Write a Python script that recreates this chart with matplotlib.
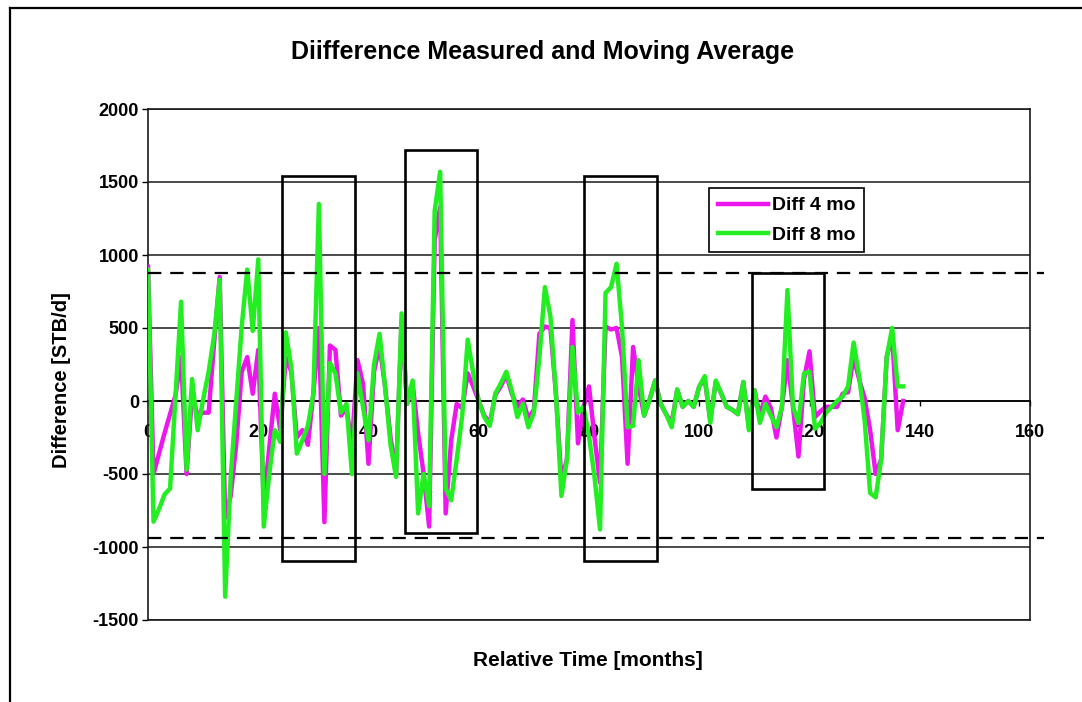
import matplotlib
matplotlib.use("Agg")
import matplotlib.pyplot as plt
from matplotlib.patches import Rectangle
from matplotlib.lines import Line2D

plt.rcParams['font.family'] = ['Liberation Sans', 'DejaVu Sans']
plt.rcParams['font.weight'] = 'bold'

# ---------------- data ----------------
months = list(range(138))

diff_4mo = [
    920, -500, -360, -220, -90, 40, 300, -500, 50, -100,
    -80, -80, 400, 850, -800, -650, -300, 200, 300, 50,
    350, -700, -320, 50, -200, 300, 200, -250, -200, -300,
    50, 500, -830, 380, 350, -100, -50, -300, 280, 120,
    -430, 200, 380, 100, -250, -500, 550, -20, 120, -220,
    -500, -860, 1100, 1330, -770, -270, -20, -50, 190, 100,
    0, -100, -150, 40, 100, 180, 50, -40, 10, -120,
    -60, 460, 510, 500, 50, -540, -400, 555, -290, -40,
    100, -250, -560, 510, 490, 500, 300, -430, 370, 100,
    -100, 10, 140, -20, -90, -150, 75, -40, 0, -40,
    100, 150, -130, 130, 50, -40, -60, -90, 130, -180,
    75, -100, 30, -50, -250, -40, 280, -40, -380, 150,
    340, -110, -70, -40, -40, -40, 50, 60, 300, 150,
    20, -200, -500, -400, 300, 450, -200, 0,
]

diff_8mo = [
    900, -826, -740, -640, -600, 40, 680, -470, 150, -200,
    10, 200, 450, 830, -1340, -520, 0, 510, 900, 480,
    970, -860, -500, -200, -280, 470, 230, -360, -270, -170,
    50, 1350, -500, 260, 190, -80, -20, -500, 190, -40,
    -270, 250, 460, 100, -300, -520, 600, -20, 140, -770,
    -500, -720, 1300, 1570, -600, -680, -400, -100, 420, 190,
    0, -110, -170, 50, 120, 200, 70, -110, -20, -180,
    -80, 300, 780, 580, 50, -650, -400, 370, -80, -40,
    -240, -520, -880, 740, 780, 940, 500, -180, -170, 280,
    -100, 10, 140, -20, -90, -180, 80, -40, 0, -40,
    100, 170, -150, 140, 50, -40, -60, -90, 130, -200,
    75, -150, -20, -100, -180, -40, 760, -40, -150, 190,
    200, -190, -150, -80, -40, 0, 30, 100, 400, 170,
    -130, -630, -660, -400, 300, 500, 100, 100,
]

# threshold levels (dashed lines)
upper_limit = 880
lower_limit = -935

# highlighted windows: (start month, end month, low, high)
highlights = [
    (24.3, 37.6, -1095, 1540),
    (46.6, 59.6, -905, 1720),
    (79.1, 92.3, -1095, 1540),
    (109.5, 122.7, -605, 875),
]

x_ticks = [0, 20, 40, 60, 80, 100, 120, 140, 160]
y_ticks = [-1500, -1000, -500, 0, 500, 1000, 1500, 2000]

title = "Diifference Measured and Moving Average"
x_label = "Relative Time [months]"
y_label = "Difference [STB/d]"
labels = ["Diff 4 mo", "Diff 8 mo"]

# ---------------- figure ----------------
W, H = 1082, 702
fig = plt.figure(figsize=(W / 100, H / 100), dpi=100)
fig.patch.set_facecolor('white')

ax = fig.add_axes([148 / W, 1 - 620 / H, (1030 - 148) / W, (620 - 109) / H])
ax.set_xlim(0, 160)
ax.set_ylim(-1500, 2000)
ax.set_xticks(x_ticks)
ax.set_yticks(y_ticks)
ax.set_xticklabels([str(t) for t in x_ticks])
ax.set_yticklabels([str(t) for t in y_ticks])

ax.grid(axis='y', color='#1a1a1a', lw=1.1, zorder=1)
ax.set_axisbelow(True)

for s in ['left', 'right', 'top']:
    ax.spines[s].set_color('#1a1a1a')
    ax.spines[s].set_linewidth(1.2)
ax.spines['bottom'].set_position(('data', 0))
ax.spines['bottom'].set_color('black')
ax.spines['bottom'].set_linewidth(1.2)
# plot-area bottom border
ax.plot([0, 1], [0, 0], transform=ax.transAxes, color='#1a1a1a', lw=1.2,
        clip_on=False, zorder=2)

ax.tick_params(axis='x', direction='out', length=3.5, width=1, pad=13,
               labelsize=13, colors='black')
ax.tick_params(axis='y', direction='out', length=4, width=1, pad=2.5,
               labelsize=13, colors='black')
for lab in ax.get_xticklabels() + ax.get_yticklabels():
    lab.set_fontweight('bold')

l4, = ax.plot(months, diff_4mo, color='#EE16EE', lw=3.2, zorder=3,
              solid_joinstyle='round')
l8, = ax.plot(months, diff_8mo, color='#22EE22', lw=3.2, zorder=4,
              solid_joinstyle='round')

for lvl in (upper_limit, lower_limit):
    ax.plot([0, 162.5], [lvl, lvl], color='black', lw=1.6,
            dashes=(6, 4), clip_on=False, zorder=5)

for (x0, x1, lo, hi) in highlights:
    ax.add_patch(Rectangle((x0, lo), x1 - x0, hi - lo, fill=False,
                           edgecolor='black', lw=1.9, clip_on=False, zorder=6))

leg = ax.legend([l4, l8], labels, loc='upper left',
                bbox_to_anchor=(709 / W, 1 - 188 / H),
                bbox_transform=fig.transFigure,
                frameon=True, fancybox=False, framealpha=1,
                edgecolor='black', fontsize=14, handlelength=2.6,
                handletextpad=0.2, labelspacing=0.6, borderpad=0.45,
                borderaxespad=0)
leg.get_frame().set_linewidth(1.2)
for t in leg.get_texts():
    t.set_fontweight('bold')
leg.set_zorder(7)

fig.text(543 / W, 1 - 52 / H, title, ha='center', va='center',
         fontsize=18, fontweight='bold')
fig.text(588 / W, 1 - 660 / H, x_label, ha='center', va='center',
         fontsize=15, fontweight='bold')
fig.text(62 / W, 1 - 380 / H, y_label, ha='center', va='center',
         rotation=90, fontsize=14.5, fontweight='bold')

# chart-area frame (left and top edges)
fig.add_artist(Line2D([10 / W, 10 / W], [0, 1 - 8 / H], color='black',
                      lw=1.6, transform=fig.transFigure))
fig.add_artist(Line2D([10 / W, 1], [1 - 8 / H, 1 - 8 / H], color='black',
                      lw=1.6, transform=fig.transFigure))

fig.savefig('out.png', dpi=100, facecolor='white')
